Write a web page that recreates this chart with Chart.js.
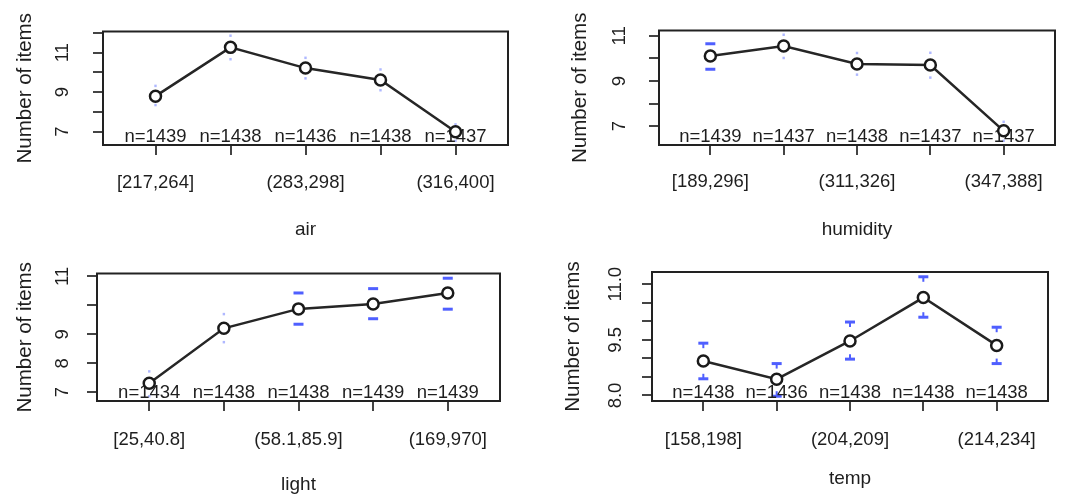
<!DOCTYPE html>
<html>
<head>
<meta charset="utf-8">
<script src="https://cdn.jsdelivr.net/npm/chart.js@4.4.1/dist/chart.umd.min.js"></script>
<style>
  body { margin: 0; background: #fff; }
  #wrap { position: relative; width: 1067px; height: 497px; overflow: hidden; }
  canvas { position: absolute; }
</style>
</head>
<body>
<div id="wrap">
  <canvas id="c_air" width="533" height="248" style="left:0;top:0"></canvas>
  <canvas id="c_humidity" width="534" height="248" style="left:533px;top:0"></canvas>
  <canvas id="c_light" width="533" height="249" style="left:0;top:248px"></canvas>
  <canvas id="c_temp" width="534" height="249" style="left:533px;top:248px"></canvas>
</div>
<script>
// ---- data ----
const airCats = ["[217,264]", "(264,283]", "(283,298]", "(298,316]", "(316,400]"];
const airMeans = [8.80, 11.27, 10.22, 9.62, 7.00];
const airUpper = [9.32, 11.86, 10.74, 10.15, 7.37];
const airLower = [8.35, 10.67, 9.70, 9.10, 6.54];
const airN = [1439, 1438, 1436, 1438, 1437];
const airYTicks = [7, 8, 9, 10, 11, 12];
const airYLabels = [7, 9, 11];

const humCats = ["[189,296]", "(296,311]", "(311,326]", "(326,347]", "(347,388]"];
const humMeans = [10.11, 10.55, 9.75, 9.71, 6.79];
const humUpper = [10.65, 11.05, 10.24, 10.25, 7.19];
const humLower = [9.52, 10.02, 9.28, 9.15, 6.35];
const humN = [1439, 1437, 1438, 1437, 1437];
const humYTicks = [7, 8, 9, 10, 11];
const humYLabels = [7, 9, 11];

const lightCats = ["[25,40.8]", "(40.8,58.1]", "(58.1,85.9]", "(85.9,169]", "(169,970]"];
const lightMeans = [7.31, 9.21, 9.88, 10.05, 10.43];
const lightUpper = [7.72, 9.70, 10.43, 10.58, 10.94];
const lightLower = [6.86, 8.73, 9.35, 9.54, 9.87];
const lightN = [1434, 1438, 1438, 1439, 1439];
const lightYTicks = [7, 8, 9, 10, 11];
const lightYLabels = [7, 8, 9, 11];

const tempCats = ["[158,198]", "(198,204]", "(204,209]", "(209,214]", "(214,234]"];
const tempMeans = [8.93, 8.44, 9.47, 10.64, 9.35];
const tempUpper = [9.41, 8.86, 9.98, 11.20, 9.84];
const tempLower = [8.45, 7.98, 8.98, 10.11, 8.86];
const tempN = [1438, 1436, 1438, 1438, 1438];
const tempYTicks = [8, 8.5, 9, 9.5, 10, 10.5, 11];
const tempYLabels = [8, 9.5, 11];

// ---- style ----
const FAMILY = "'Liberation Sans', Arial, sans-serif";
const TEXT = "#1e1e1e";
const TICK_LEN = 10;
const tickFont = { family: FAMILY, size: 18.5 };
const titleFont = { family: FAMILY, size: 19 };
const yTitleFont = { family: FAMILY, size: 20.5 };
const BLUE = "#4f5fff";
const BLUE_DOT = "rgba(110,125,255,0.55)";

function textWidth(str, font) {
  const ctx = document.createElement("canvas").getContext("2d");
  ctx.font = `${font.size}px ${font.family}`;
  return ctx.measureText(str).width;
}

// error bars: cap + optional stub, drawn through the chart scales
const errorBarsPlugin = {
  id: "errorBars",
  beforeDatasetsDraw(chart, args, opts) {
    const { ctx, scales: { x, y } } = chart;
    ctx.save();
    opts.upper.forEach((up, i) => {
      const cap = opts.caps[i];
      const px = x.getPixelForValue(i);
      const pm = y.getPixelForValue(opts.means[i]);
      [up, opts.lower[i]].forEach((v) => {
        const py = y.getPixelForValue(v);
        ctx.strokeStyle = cap.wide ? BLUE : BLUE_DOT;
        ctx.lineWidth = cap.wide ? 3 : 2.5;
        ctx.beginPath();
        ctx.moveTo(px - cap.half, py);
        ctx.lineTo(px + cap.half, py);
        ctx.stroke();
        if (cap.stub) {
          ctx.lineWidth = 2;
          ctx.beginPath();
          ctx.moveTo(px, py);
          ctx.lineTo(px, py + Math.sign(pm - py) * cap.stub);
          ctx.stroke();
        }
      });
    });
    ctx.restore();
  },
};

const nLabelsPlugin = {
  id: "nLabels",
  beforeDatasetsDraw(chart, args, opts) {
    const { ctx, chartArea, scales: { x } } = chart;
    ctx.save();
    ctx.font = `${tickFont.size}px ${FAMILY}`;
    ctx.fillStyle = TEXT;
    ctx.textAlign = "center";
    ctx.textBaseline = "alphabetic";
    opts.n.forEach((n, i) => {
      ctx.fillText("n=" + n, x.getPixelForValue(i), chartArea.bottom - 3);
    });
    ctx.restore();
  },
};

const boxPlugin = {
  id: "box",
  afterDraw(chart) {
    const { ctx, chartArea: a } = chart;
    ctx.save();
    ctx.strokeStyle = "#222";
    ctx.lineWidth = 2;
    ctx.strokeRect(a.left, a.top, a.right - a.left, a.bottom - a.top);
    ctx.restore();
  },
};

function dots(n) {
  return Array.from({ length: n }, () => ({ half: 1.2, stub: 0, wide: false }));
}
function wideCap(stub) {
  return { half: 5, stub: stub || 0, wide: true };
}

function makePanel(id, p) {
  const a = p.area;
  const lo0 = Math.min(...p.lower);
  const hi0 = Math.max(...p.upper);
  const ext = (hi0 - lo0) * 0.04;

  const widest = Math.max(...p.yLabels.map((v) => textWidth(p.fmt(v), tickFont)));
  const yPad = p.yLabelOff - TICK_LEN - widest / 2;
  const xPad = p.xLabelOff - TICK_LEN - (tickFont.size * 1.2) / 2;
  const yTitleTop = p.yTitleX - (yTitleFont.size * 1.2) / 2;
  const xTitleBottom = p.h - p.xTitleY - (titleFont.size * 1.2) / 2;

  const grid = {
    display: true,
    drawOnChartArea: false,
    drawTicks: true,
    tickLength: TICK_LEN,
    color: "#444",
    lineWidth: 2,
  };

  return new Chart(document.getElementById(id), {
    type: "line",
    data: {
      datasets: [
        {
          data: p.means.map((m, i) => ({ x: i, y: m })),
          borderColor: "#262626",
          borderWidth: 2.5,
          pointRadius: 5.5,
          pointBorderWidth: 2.5,
          pointBorderColor: "#1a1a1a",
          pointBackgroundColor: "#fff",
          tension: 0,
        },
      ],
    },
    options: {
      responsive: false,
      animation: false,
      devicePixelRatio: 1,
      layout: { padding: { left: 0, top: a.top, right: p.w - a.right, bottom: 0 } },
      plugins: {
        legend: { display: false },
        tooltip: { enabled: false },
        errorBars: { upper: p.upper, lower: p.lower, means: p.means, caps: p.caps },
        nLabels: { n: p.n },
      },
      scales: {
        x: {
          type: "linear",
          min: -0.7,
          max: 4.7,
          afterBuildTicks: (s) => { s.ticks = p.cats.map((c, i) => ({ value: i })); },
          afterFit: (s) => { s.height = p.h - a.bottom; },
          grid,
          border: { display: false },
          ticks: {
            autoSkip: false,
            maxRotation: 0,
            minRotation: 0,
            padding: xPad,
            font: tickFont,
            color: TEXT,
            callback: (v, i) => (i % 2 === 0 ? p.cats[v] : ""),
          },
          title: {
            display: true,
            text: p.name,
            font: titleFont,
            color: TEXT,
            padding: { top: 0, bottom: xTitleBottom },
          },
        },
        y: {
          type: "linear",
          min: lo0 - ext,
          max: hi0 + ext,
          afterBuildTicks: (s) => { s.ticks = p.yTicks.map((v) => ({ value: v })); },
          afterFit: (s) => { s.width = a.left; },
          grid,
          border: { display: false },
          ticks: {
            autoSkip: false,
            padding: yPad,
            crossAlign: "center",
            minRotation: 90,
            maxRotation: 90,
            font: tickFont,
            color: TEXT,
            callback: (v) => (p.yLabels.includes(v) ? p.fmt(v) : ""),
          },
          title: {
            display: true,
            text: "Number of items",
            font: yTitleFont,
            color: TEXT,
            padding: { top: yTitleTop, bottom: 0 },
          },
        },
      },
    },
    plugins: [errorBarsPlugin, nLabelsPlugin, boxPlugin],
  });
}

const intFmt = (v) => String(v);
const oneDec = (v) => v.toFixed(1);

makePanel("c_air", {
  name: "air", cats: airCats, means: airMeans, upper: airUpper, lower: airLower, n: airN,
  yTicks: airYTicks, yLabels: airYLabels, fmt: intFmt,
  w: 533, h: 248, area: { left: 103, top: 17, right: 508, bottom: 145 },
  yTitleX: 25, yLabelOff: 40, xLabelOff: 38, xTitleY: 230,
  caps: dots(5),
});

makePanel("c_humidity", {
  name: "humidity", cats: humCats, means: humMeans, upper: humUpper, lower: humLower, n: humN,
  yTicks: humYTicks, yLabels: humYLabels, fmt: intFmt,
  w: 534, h: 248, area: { left: 126, top: 17, right: 522, bottom: 145 },
  yTitleX: 47, yLabelOff: 39, xLabelOff: 37, xTitleY: 230,
  caps: [wideCap(0)].concat(dots(4)),
});

makePanel("c_light", {
  name: "light", cats: lightCats, means: lightMeans, upper: lightUpper, lower: lightLower, n: lightN,
  yTicks: lightYTicks, yLabels: lightYLabels, fmt: intFmt,
  w: 533, h: 249, area: { left: 97, top: 25, right: 500, bottom: 153 },
  yTitleX: 25, yLabelOff: 34, xLabelOff: 39, xTitleY: 237,
  caps: dots(2).concat([wideCap(0), wideCap(0), wideCap(0)]),
});

makePanel("c_temp", {
  name: "temp", cats: tempCats, means: tempMeans, upper: tempUpper, lower: tempLower, n: tempN,
  yTicks: tempYTicks, yLabels: tempYLabels, fmt: oneDec,
  w: 534, h: 249, area: { left: 119, top: 24, right: 515, bottom: 153 },
  yTitleX: 40, yLabelOff: 36, xLabelOff: 39, xTitleY: 231,
  caps: [wideCap(5), wideCap(5), wideCap(5), wideCap(5), wideCap(5)],
});
</script>
</body>
</html>
